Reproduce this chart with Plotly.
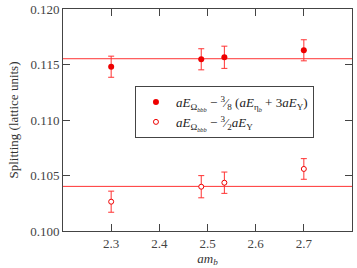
import plotly.graph_objects as go

am_b = [2.3, 2.487, 2.535, 2.7]
split_full = [0.1148, 0.11547, 0.11565, 0.11628]
err_full = [0.00095, 0.00095, 0.001, 0.00095]
split_open = [0.10264, 0.10399, 0.10435, 0.10559]
err_open = [0.00095, 0.00100, 0.00096, 0.00093]
fit_full = 0.11552
fit_open = 0.10402
x_range = [2.2, 2.8]
y_range = [0.100, 0.120]
x_ticks = [2.3, 2.4, 2.5, 2.6, 2.7]
y_ticks = [0.100, 0.105, 0.110, 0.115, 0.120]

label_full = "<i>aE</i><sub>Ω<sub><i>bbb</i></sub></sub> − <sup>3</sup>⁄<sub>8</sub> (<i>aE</i><sub>η<sub><i>b</i></sub></sub> + 3<i>aE</i><sub>Υ</sub>)"
label_open = "<i>aE</i><sub>Ω<sub><i>bbb</i></sub></sub> − <sup>3</sup>⁄<sub>2</sub><i>aE</i><sub>Υ</sub>"

RED = "#ee0000"
LINE = "#ff3333"
FONT = "Liberation Serif"

fig = go.Figure()
fig.add_trace(go.Scatter(x=x_range, y=[fit_full, fit_full], mode="lines",
                         line=dict(color=LINE, width=1), showlegend=False, hoverinfo="skip"))
fig.add_trace(go.Scatter(x=x_range, y=[fit_open, fit_open], mode="lines",
                         line=dict(color=LINE, width=1), showlegend=False, hoverinfo="skip"))
fig.add_trace(go.Scatter(x=am_b, y=split_full, mode="markers", name=label_full,
                         marker=dict(color=RED, size=6, symbol="circle"),
                         error_y=dict(type="data", array=err_full, color=LINE, thickness=1, width=3)))
fig.add_trace(go.Scatter(x=am_b, y=split_open, mode="markers", name=label_open,
                         marker=dict(color="white", size=5, symbol="circle",
                                     line=dict(color=RED, width=1)),
                         error_y=dict(type="data", array=err_open, color=LINE, thickness=1, width=3)))

axis_common = dict(showline=True, linecolor="#444", linewidth=1, mirror="ticks",
                   ticks="inside", ticklen=7, tickcolor="#444", showgrid=False,
                   zeroline=False, automargin=False,
                   tickfont=dict(family=FONT, size=13, color="#444"))

fig.update_layout(
    width=357, height=268, autosize=False,
    margin=dict(l=63, r=5, t=9, b=37),
    plot_bgcolor="white", paper_bgcolor="white",
    font=dict(family=FONT, size=12, color="#333"),
    xaxis=dict(range=x_range, tickvals=x_ticks, ticktext=[f"{v:.1f}" for v in x_ticks],
               title=dict(text="<i>am</i><sub><i>b</i></sub>", standoff=2,
                          font=dict(family=FONT, size=13, color="#333")),
               **axis_common),
    yaxis=dict(range=y_range, tickvals=y_ticks, ticktext=[f"{v:.3f}" for v in y_ticks],
               title=dict(text="Splitting (lattice units)", standoff=8,
                          font=dict(family=FONT, size=13, color="#333")),
               **axis_common),
    legend=dict(x=0.249, y=0.653, xanchor="left", yanchor="top",
                bordercolor="#444", borderwidth=1, bgcolor="white",
                font=dict(family=FONT, size=13, color="#222"),
                itemwidth=30, tracegroupgap=0),
)

fig.write_html("out.html",
               config={"displayModeBar": False, "responsive": False},
               post_script="document.body.style.margin='0';document.body.style.overflow='hidden';")
